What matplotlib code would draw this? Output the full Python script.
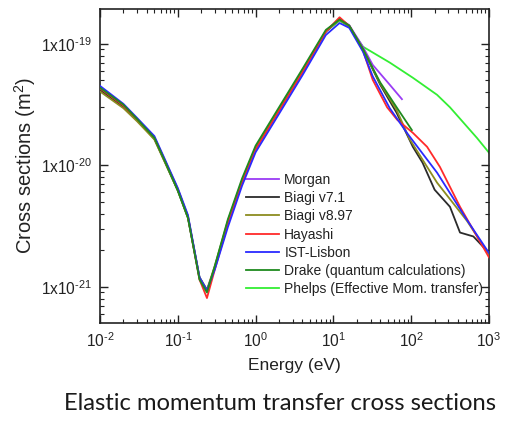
import matplotlib
matplotlib.use("Agg")
import matplotlib.pyplot as plt
from matplotlib.ticker import LogLocator, FixedLocator, NullFormatter

# Energy grid shared by the low-energy part of every data set (eV)
e_low = [0.01, 0.02, 0.03, 0.05, 0.07, 0.1, 0.135, 0.19, 0.237, 0.3,
         0.44, 0.67, 1.0, 2.0, 4.0, 8.0, 12.0, 16.0]

# Cross sections in units of 1e-20 m^2
morgan_low = [4.3, 3.1, 2.4, 1.68, 1.05, 0.63, 0.38, 0.12, 0.093, 0.145,
              0.34, 0.74, 1.38, 2.85, 5.9, 12.6, 16.0, 14.2]
morgan_e_tail = [24, 32, 53, 76]
morgan_tail = [9.4, 6.7, 4.6, 3.5]

biagi71_low = [4.15, 3.0, 2.35, 1.65, 1.03, 0.62, 0.37, 0.118, 0.092, 0.145,
               0.34, 0.74, 1.38, 2.85, 5.9, 12.6, 16.0, 14.0]
biagi71_e_tail = [24, 40, 65, 105, 140, 200, 315, 424, 630, 1000]
biagi71_tail = [9.0, 4.6, 2.7, 1.42, 1.05, 0.63, 0.456, 0.28, 0.26, 0.19]

biagi897_low = [4.05, 2.95, 2.3, 1.63, 1.02, 0.62, 0.37, 0.12, 0.095, 0.15,
                0.35, 0.75, 1.4, 2.9, 6.0, 12.7, 15.7, 13.9]
biagi897_e_tail = [24, 40, 65, 95, 215, 520, 1000]
biagi897_tail = [9.0, 4.7, 2.85, 1.65, 0.72, 0.35, 0.185]

hayashi_low = [4.3, 3.1, 2.4, 1.7, 1.06, 0.64, 0.38, 0.115, 0.081, 0.14,
               0.33, 0.72, 1.35, 2.8, 5.8, 12.6, 16.5, 14.0]
hayashi_e_tail = [24, 32, 49, 66, 105, 160, 234, 424, 1000]
hayashi_tail = [8.8, 5.05, 3.0, 2.37, 1.85, 1.42, 0.97, 0.456, 0.175]

ist_low = [4.5, 3.2, 2.45, 1.74, 1.08, 0.65, 0.39, 0.12, 0.094, 0.14,
           0.31, 0.68, 1.28, 2.65, 5.5, 11.8, 14.8, 13.5]
ist_e_tail = [24, 32, 53, 88, 215, 520, 1000]
ist_tail = [8.6, 5.4, 2.95, 1.85, 0.87, 0.356, 0.19]

drake_low = [4.35, 3.15, 2.4, 1.68, 1.04, 0.62, 0.37, 0.115, 0.09, 0.15,
             0.36, 0.78, 1.45, 3.0, 6.2, 13.0, 15.8, 14.1]
drake_e_tail = [24, 40, 65, 102]
drake_tail = [9.0, 4.8, 3.0, 1.95]

phelps_low = [4.3, 3.1, 2.4, 1.68, 1.05, 0.63, 0.38, 0.12, 0.093, 0.145,
              0.34, 0.74, 1.38, 2.85, 5.9, 12.6, 15.5, 13.8]
phelps_e_tail = [24, 53, 105, 215, 315, 700, 1000]
phelps_tail = [9.45, 7.0, 5.25, 3.8, 3.0, 1.68, 1.27]

series = [
    ("Morgan", morgan_low, morgan_e_tail, morgan_tail, "#9a3cf5", 3),
    ("Biagi v7.1", biagi71_low, biagi71_e_tail, biagi71_tail, "#2b2b2b", 4),
    ("Biagi v8.97", biagi897_low, biagi897_e_tail, biagi897_tail, "#8c8c20", 5),
    ("Hayashi", hayashi_low, hayashi_e_tail, hayashi_tail, "#ff2a2a", 6),
    ("IST-Lisbon", ist_low, ist_e_tail, ist_tail, "#2a2aff", 7),
    ("Drake (quantum calculations)", drake_low, drake_e_tail, drake_tail, "#1f8a1f", 8),
    ("Phelps (Effective Mom. transfer)", phelps_low, phelps_e_tail, phelps_tail, "#33ee33", 2),
]

x_ticks = [1e-2, 1e-1, 1e0, 1e1, 1e2, 1e3]
x_labels = [r"10$^{\text{-}2}$", r"10$^{\text{-}1}$", r"10$^{0}$",
            r"10$^{1}$", r"10$^{2}$", r"10$^{3}$"]
y_ticks = [1e-21, 1e-20, 1e-19]
y_labels = [r"1x10$^{\text{-}21}$", r"1x10$^{\text{-}20}$", r"1x10$^{\text{-}19}$"]

plt.rcParams["font.family"] = ["Liberation Sans", "DejaVu Sans"]
plt.rcParams["mathtext.fontset"] = "custom"
plt.rcParams["mathtext.rm"] = "Liberation Sans"
plt.rcParams["mathtext.it"] = "Liberation Sans:italic"

fig = plt.figure(figsize=(5.29, 4.21), dpi=100)
ax = fig.add_axes([100 / 529, 1 - 323 / 421, 389 / 529, 314 / 421])

for name, low, e_tail, tail, color, z in series:
    e = e_low + e_tail
    s = [v * 1e-20 for v in low + tail]
    ax.plot(e, s, color=color, linewidth=1.3, label=name, zorder=z)

ax.set_xscale("log")
ax.set_yscale("log")
ax.set_xlim(1e-2, 1e3)
ax.set_ylim(5.05e-22, 1.93e-19)

ax.xaxis.set_major_locator(FixedLocator(x_ticks))
ax.set_xticklabels(x_labels)
ax.xaxis.set_minor_locator(LogLocator(base=10, subs=range(2, 10), numticks=20))
ax.xaxis.set_minor_formatter(NullFormatter())

ax.yaxis.set_major_locator(FixedLocator(y_ticks))
ax.set_yticklabels(y_labels)
ax.yaxis.set_minor_locator(LogLocator(base=10, subs=range(2, 10), numticks=20))
ax.yaxis.set_minor_formatter(NullFormatter())

ax.tick_params(which="both", direction="in", top=True, right=True,
               colors="#222222", labelcolor="#222222")
ax.tick_params(which="major", length=6, width=1, labelsize=11.2, pad=6)
ax.tick_params(which="minor", length=3, width=0.8)
for sp in ax.spines.values():
    sp.set_linewidth(1.2)
    sp.set_color("#222222")

ax.set_xlabel("Energy (eV)", fontsize=12.5, color="#222222", labelpad=6)
ax.set_ylabel("Cross sections (m$^2$)", fontsize=14.5, color="#222222", labelpad=2)

leg = ax.legend(loc="upper left", bbox_to_anchor=(246 / 529, 1 - 173 / 421),
                bbox_transform=fig.transFigure, frameon=False, fontsize=10,
                handlelength=2.4, handletextpad=0.36, labelspacing=0.3,
                borderaxespad=0, borderpad=0)
for t in leg.get_texts():
    t.set_color("#222222")

fig.text(280 / 529, 1 - 404 / 421, "Elastic momentum transfer cross sections",
         ha="center", va="center", fontsize=17.1, family="Lato", color="#1a1a1a")

fig.savefig("out.png", dpi=100)
